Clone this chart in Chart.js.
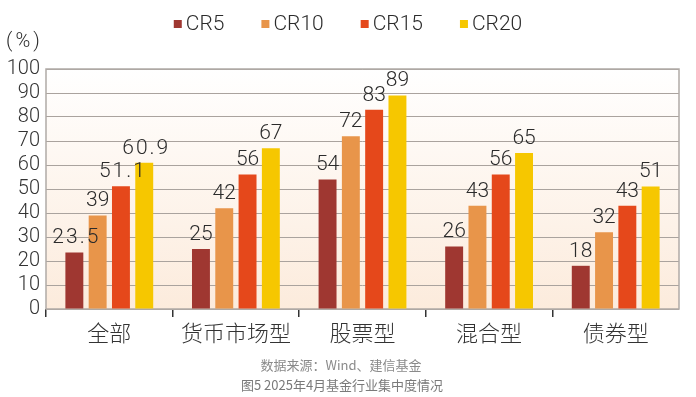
<!DOCTYPE html>
<html>
<head>
<meta charset="utf-8">
<script src="https://cdn.jsdelivr.net/npm/chart.js@4.4.1/dist/chart.umd.min.js"></script>
<style>
  html, body { margin: 0; padding: 0; background: #fff; }
  #wrap { width: 696px; height: 397px; }
</style>
</head>
<body>
<div id="wrap"><canvas id="concentration-chart"></canvas></div>
<script>
const categories = ["全部", "货币市场型", "股票型", "混合型", "债券型"];
const cr5  = [23.5, 25, 54, 26, 18];
const cr10 = [39, 42, 72, 43, 32];
const cr15 = [51.1, 56, 83, 56, 43];
const cr20 = [60.9, 67, 89, 65, 51];
const seriesNames = ["CR5", "CR10", "CR15", "CR20"];
const seriesColors = ["#9f3731", "#e8954a", "#e5481b", "#f6c700"];
const yMin = 0, yMax = 100, yStep = 10;
const unitLabel = "(%)";
const sourceNote = "数据来源：Wind、建信基金";
const figureTitle = "图5 2025年4月基金行业集中度情况";

const numFont = "Roboto, 'Liberation Sans', sans-serif";
const cjkFont = "'Noto Sans CJK SC', 'Noto Sans', sans-serif";

// gradient background + frame around plot area
const plotFrame = {
    id: 'plotFrame',
    beforeDraw(chart) {
        const {ctx, chartArea: a} = chart;
        const g = ctx.createLinearGradient(0, a.top, 0, a.bottom);
        g.addColorStop(0, '#ffffff');
        g.addColorStop(1, '#fcebdc');
        ctx.save();
        ctx.fillStyle = g;
        ctx.fillRect(a.left, a.top, a.right - a.left, a.bottom - a.top);
        ctx.restore();
    },
    beforeDatasetsDraw(chart) {
        const {ctx, chartArea: a} = chart;
        ctx.save();
        ctx.strokeStyle = '#b0aaa6';
        ctx.lineWidth = 1.5;
        ctx.strokeRect(a.left, a.top, a.right - a.left, a.bottom - a.top);
        ctx.restore();
    }
};

// value labels above bars
const valueLabels = {
    id: 'valueLabels',
    afterDatasetsDraw(chart) {
        const ctx = chart.ctx;
        ctx.save();
        ctx.font = "300 21px " + numFont;
        ctx.fillStyle = '#2b2b2b';
        ctx.textAlign = 'center';
        ctx.textBaseline = 'bottom';
        chart.data.datasets.forEach((ds, i) => {
            chart.getDatasetMeta(i).data.forEach((bar, j) => {
                const txt = String(ds.data[j]);
                const dec = txt.includes('.');
                ctx.letterSpacing = dec ? '2px' : '0px';
                ctx.fillText(txt, bar.x + (dec ? 2 : 0), bar.y - 4);
            });
        });
        ctx.restore();
    }
};

// legend, unit and notes
const legendAndNotes = {
    id: 'legendAndNotes',
    afterDraw(chart) {
        const ctx = chart.ctx;
        ctx.save();
        ctx.font = "300 21px " + numFont;
        ctx.textBaseline = 'middle';
        const box = 8, gapText = 4, gapItem = 37;
        const widths = seriesNames.map(n => box + gapText + ctx.measureText(n).width);
        const total = widths.reduce((s, w) => s + w, 0) + gapItem * (widths.length - 1);
        let x = 348 - total / 2;
        seriesNames.forEach((n, i) => {
            ctx.fillStyle = seriesColors[i];
            ctx.fillRect(x, 20, box, box);
            ctx.fillStyle = '#2b2b2b';
            ctx.fillText(n, x + box + gapText, 25);
            x += widths[i] + gapItem;
        });

        ctx.font = "300 20px " + numFont;
        ctx.letterSpacing = '3px';
        ctx.fillText(unitLabel, 6, 42);
        ctx.letterSpacing = '0px';

        ctx.textAlign = 'center';
        ctx.font = "13px " + cjkFont;
        ctx.fillStyle = '#8a8a8a';
        ctx.fillText(sourceNote, 341, 365);
        ctx.fillStyle = '#7a7a7a';
        ctx.fillText(figureTitle, 342, 385);
        ctx.restore();
    }
};

const series = [cr5, cr10, cr15, cr20];

new Chart(document.getElementById("concentration-chart"), {
    type: 'bar',
    data: {
        labels: categories,
        datasets: series.map((d, i) => ({
            label: seriesNames[i],
            data: d,
            backgroundColor: seriesColors[i],
            borderWidth: 0,
            categoryPercentage: 0.736,
            barPercentage: 0.77
        }))
    },
    options: {
        responsive: true,
        maintainAspectRatio: false,
        animation: false,
        layout: {
            padding: { top: 69, right: 17, left: 0, bottom: 0 }
        },
        plugins: {
            legend: { display: false },
            tooltip: { enabled: false }
        },
        scales: {
            x: {
                afterFit(scale) { scale.height = 88; },
                grid: {
                    offset: true,
                    drawOnChartArea: false,
                    drawTicks: true,
                    tickLength: 8,
                    lineWidth: 1.5,
                    color: (c) => c.index === undefined ? 'transparent' : '#333'
                },
                border: { display: false },
                ticks: {
                    color: '#333',
                    padding: 2,
                    font: { family: cjkFont, size: 22, weight: 300 }
                }
            },
            y: {
                min: yMin,
                max: yMax,
                afterFit(scale) { scale.width = 46; },
                grid: {
                    color: '#aaa39e',
                    lineWidth: 1,
                    drawTicks: false
                },
                border: { display: false },
                ticks: {
                    stepSize: yStep,
                    autoSkip: false,
                    color: '#333',
                    padding: 6,
                    font: { family: numFont, size: 20, weight: 300 }
                }
            }
        }
    },
    plugins: [plotFrame, valueLabels, legendAndNotes]
});
</script>
</body>
</html>
